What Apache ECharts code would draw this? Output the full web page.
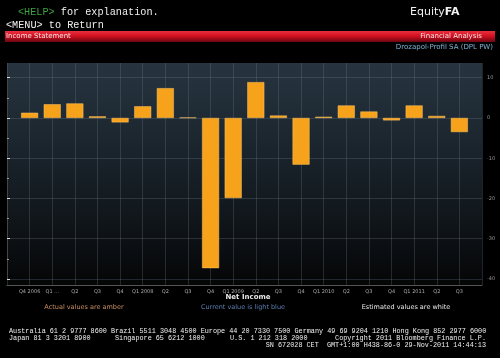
<!DOCTYPE html>
<html><head><meta charset="utf-8">
<script src="https://cdn.jsdelivr.net/npm/echarts@6/dist/echarts.min.js"></script>
<style>html,body{margin:0;padding:0;background:#000;}#c{width:500px;height:358px;}</style>
</head><body><div id="c"></div>
<script>
var categories = ['Q4 2006','Q1 ...','Q2','Q3','Q4','Q1 2008','Q2','Q3','Q4','Q1 2009','Q2','Q3','Q4','Q1 2010','Q2','Q3','Q4','Q1 2011','Q2','Q3'];
var netIncome = [1.3, 3.4, 3.6, 0.4, -1.1, 2.9, 7.4, 0.1, -37.3, -19.9, 8.9, 0.6, -11.6, 0.3, 3.1, 1.6, -0.6, 3.1, 0.5, -3.5];
var yTicks = [10, 0, -10, -20, -30, -40];

var chart = echarts.init(document.getElementById('c'), null, {renderer:'canvas'});
var mono = '"Liberation Mono", "DejaVu Sans Mono", monospace';
var sans = '"DejaVu Sans", "Liberation Sans", sans-serif';
var gridCol = 'rgba(110,130,145,0.28)';
var foot = '6.8px ' + mono;

var option = {
  backgroundColor: '#000',
  animation: false,
  grid: [
    {left: 7, top: 63, width: 475, height: 222, show: true, borderWidth: 0,
     backgroundColor: {type:'linear', x:0, y:0, x2:0, y2:1, colorStops:[
       {offset:0, color:'#27343f'},{offset:0.3, color:'#1d2831'},{offset:0.6, color:'#141b21'},{offset:0.85, color:'#0b0e11'},{offset:1, color:'#040505'}]}},
    {left: 7, top: 77.7, width: 475, height: 201.3}
  ],
  xAxis: [
    {gridIndex:0, type:'value', min:0, max:21, interval:1,
     axisLine:{show:true, lineStyle:{color:'#555', width:1}},
     axisTick:{show:false},
     splitLine:{show:true, lineStyle:{color:gridCol, width:1}},
     axisLabel:{color:'#aaa', fontSize:5, fontFamily:sans, margin:4,
       formatter:function(v){ return (v>=1 && v<=categories.length) ? categories[v-1] : ''; }}},
    {gridIndex:1, type:'value', min:0, max:21, show:false}
  ],
  yAxis: [
    {gridIndex:0, type:'value', min:0, max:1, show:false},
    {gridIndex:1, type:'value', position:'right', min:-40, max:10, interval:10,
     axisLine:{show:true, lineStyle:{color:'#444'}},
     axisTick:{show:true, length:3, lineStyle:{color:'#ddd'}},
     minorTick:{show:true, splitNumber:2, length:2, lineStyle:{color:'#999'}},
     minorSplitLine:{show:false},
     splitLine:{show:true, lineStyle:{color:gridCol, width:1}},
     axisLabel:{color:'#999', fontSize:5, fontFamily:sans, margin:5,
       formatter:function(v){ return yTicks.indexOf(v)>=0 ? String(v) : ''; }}}
  ],
  series: [{
    type:'bar', xAxisIndex:1, yAxisIndex:1, barWidth:17,
    itemStyle:{color:'#f7a21b', borderColor:'#ffc766', borderWidth:0.5},
    data: netIncome.map(function(v,i){ return [i+1, v]; })
  }],
  graphic: [
    {type:'rect', shape:{x:5, y:31, width:490, height:11}, z:10,
     style:{fill:{type:'linear', x:0, y:0, x2:0, y2:1, colorStops:[{offset:0,color:'#e83040'},{offset:0.45,color:'#d41020'},{offset:1,color:'#6a0610'}]}}},
    {type:'text', x:6, y:36.5, z:11, style:{text:'Income Statement', fill:'#f2e6e6', font:'7px '+sans, textVerticalAlign:'middle'}},
    {type:'text', x:482, y:36.5, z:11, style:{text:'Financial Analysis', fill:'#f2e6e6', font:'7px '+sans, textAlign:'right', textVerticalAlign:'middle'}},
    {type:'text', x:493, y:47, z:11, style:{text:'Drozapol-Profil SA (DPL PW)', fill:'#7fb3d2', font:'7px '+sans, textAlign:'right', textVerticalAlign:'middle'}},
    {type:'text', x:18, y:12, z:11, style:{rich:{g:{fill:'#3fa040', font:'10.2px '+mono}, w:{fill:'#f0f0f0', font:'10.2px '+mono}}, text:'{g|<HELP>}{w| for explanation.}', textVerticalAlign:'middle'}},
    {type:'text', x:6, y:25, z:11, style:{text:'<MENU> to Return', fill:'#f0f0f0', font:'10.2px '+mono, textVerticalAlign:'middle'}},
    {type:'text', x:410, y:12, z:11, style:{rich:{a:{fill:'#f0f0f0', font:'11px '+sans}, b:{fill:'#f0f0f0', font:'bold 11px '+sans}}, text:'{a|Equity}{b|FA}', textVerticalAlign:'middle'}},
    {type:'text', x:248, y:297, z:11, style:{text:'Net Income', fill:'#e8e8e8', font:'bold 7px '+sans, textAlign:'center', textVerticalAlign:'middle'}},
    {type:'text', x:84, y:307.5, z:11, style:{text:'Actual values are amber', fill:'#c88e63', font:'6.5px '+sans, textAlign:'center', textVerticalAlign:'middle'}},
    {type:'text', x:243, y:307.5, z:11, style:{text:'Current value is light blue', fill:'#5d7fb3', font:'6.5px '+sans, textAlign:'center', textVerticalAlign:'middle'}},
    {type:'text', x:406, y:307.5, z:11, style:{text:'Estimated values are white', fill:'#e8e8e8', font:'6.5px '+sans, textAlign:'center', textVerticalAlign:'middle'}},
    {type:'text', x:9, y:331, z:11, style:{text:'Australia 61 2 9777 8600 Brazil 5511 3048 4500 Europe 44 20 7330 7500 Germany 49 69 9204 1210 Hong Kong 852 2977 6000', fill:'#f0f0f0', font:foot, textVerticalAlign:'middle'}},
    {type:'text', x:9, y:338, z:11, style:{text:'Japan 81 3 3201 8900', fill:'#f0f0f0', font:foot, textVerticalAlign:'middle'}},
    {type:'text', x:115, y:338, z:11, style:{text:'Singapore 65 6212 1000', fill:'#f0f0f0', font:foot, textVerticalAlign:'middle'}},
    {type:'text', x:230, y:338, z:11, style:{text:'U.S. 1 212 318 2000', fill:'#f0f0f0', font:foot, textVerticalAlign:'middle'}},
    {type:'text', x:486, y:338, z:11, style:{text:'Copyright 2011 Bloomberg Finance L.P.', fill:'#f0f0f0', font:foot, textAlign:'right', textVerticalAlign:'middle'}},
    {type:'text', x:486, y:345, z:11, style:{text:'SN 672028 CET  GMT+1:00 H438-86-0 29-Nov-2011 14:44:13', fill:'#f0f0f0', font:foot, textAlign:'right', textVerticalAlign:'middle'}}
  ]
};
chart.setOption(option);
</script></body></html>
